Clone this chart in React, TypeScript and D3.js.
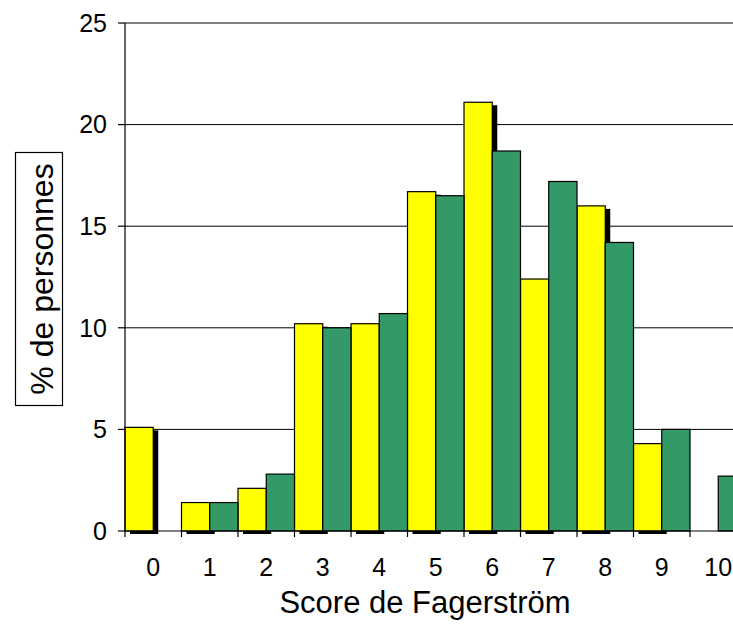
import React from "react";
import * as d3 from "d3";

const categories = ["0", "1", "2", "3", "4", "5", "6", "7", "8", "9", "10"];
const yellowValues = [5.1, 1.4, 2.1, 10.2, 10.2, 16.7, 21.1, 12.4, 16.0, 4.3, 0];
const greenValues = [0, 1.4, 2.8, 10.0, 10.7, 16.5, 18.7, 17.2, 14.2, 5.0, 2.7];
const yTicks = [0, 5, 10, 15, 20, 25];

const W = 733;
const H = 629;
const FONT = "Liberation Sans, Arial, sans-serif";

export default function App() {
  const x = d3.scaleBand<string>().domain(categories).range([125, 125 + 11 * 56.5]).padding(0);
  const y = d3.scaleLinear().domain([0, 25]).range([531, 23]);
  const bw = x.bandwidth() / 2;
  const x0 = 125;

  return (
    <svg
      width={W}
      height={H}
      style={{ position: "absolute", left: 0, top: 0, background: "#fff" }}
      fontFamily={FONT}
    >
      <rect x={0} y={0} width={W} height={H} fill="#fff" />
      {yTicks.filter((t) => t > 0).map((t) => (
        <line key={"g" + t} x1={x0} x2={W} y1={y(t)} y2={y(t)} stroke="#000" strokeWidth={1} />
      ))}
      {categories.map((c, i) =>
        yellowValues[i] > 0 ? (
          <rect
            key={"s" + c}
            x={(x(c) as number) + 5}
            y={y(yellowValues[i]) + 3}
            width={bw}
            height={y(0) - y(yellowValues[i])}
            fill="#000"
          />
        ) : null
      )}
      {categories.map((c, i) =>
        yellowValues[i] > 0 ? (
          <rect
            key={"y" + c}
            x={x(c) as number}
            y={y(yellowValues[i])}
            width={bw}
            height={y(0) - y(yellowValues[i])}
            fill="#ffff00"
            stroke="#000"
            strokeWidth={1.2}
          />
        ) : null
      )}
      {categories.map((c, i) =>
        greenValues[i] > 0 ? (
          <rect
            key={"gr" + c}
            x={(x(c) as number) + bw}
            y={y(greenValues[i])}
            width={bw}
            height={y(0) - y(greenValues[i])}
            fill="#339966"
            stroke="#000"
            strokeWidth={1.2}
          />
        ) : null
      )}
      <line x1={x0} x2={x0} y1={y(25)} y2={y(0)} stroke="#000" strokeWidth={1.2} />
      <line x1={x0} x2={W} y1={y(0)} y2={y(0)} stroke="#000" strokeWidth={1.2} />
      {yTicks.map((t) => (
        <g key={"yt" + t}>
          <line x1={x0 - 7} x2={x0} y1={y(t)} y2={y(t)} stroke="#000" strokeWidth={1.2} />
          <text x={107} y={y(t)} dy="0.35em" textAnchor="end" fontSize={25} fill="#000">
            {t}
          </text>
        </g>
      ))}
      {categories.map((c) => (
        <g key={"xt" + c}>
          <line
            x1={(x(c) as number) + x.bandwidth()}
            x2={(x(c) as number) + x.bandwidth()}
            y1={y(0)}
            y2={y(0) + 6}
            stroke="#000"
            strokeWidth={1.2}
          />
          <text
            x={(x(c) as number) + x.bandwidth() / 2}
            y={567}
            dy="0.35em"
            textAnchor="middle"
            fontSize={25}
            fill="#000"
          >
            {c}
          </text>
        </g>
      ))}
      <line x1={x0} x2={x0} y1={y(0)} y2={y(0) + 6} stroke="#000" strokeWidth={1.2} />
      <text x={425} y={613} textAnchor="middle" fontSize={31} fill="#000">
        Score de Fagerström
      </text>
      <rect x={15.5} y={152.5} width={47} height={253} fill="#fff" stroke="#000" strokeWidth={1.2} />
      <text
        transform={`translate(53,279) rotate(-90)`}
        textAnchor="middle"
        fontSize={32}
        fill="#000"
      >
        % de personnes
      </text>
    </svg>
  );
}
